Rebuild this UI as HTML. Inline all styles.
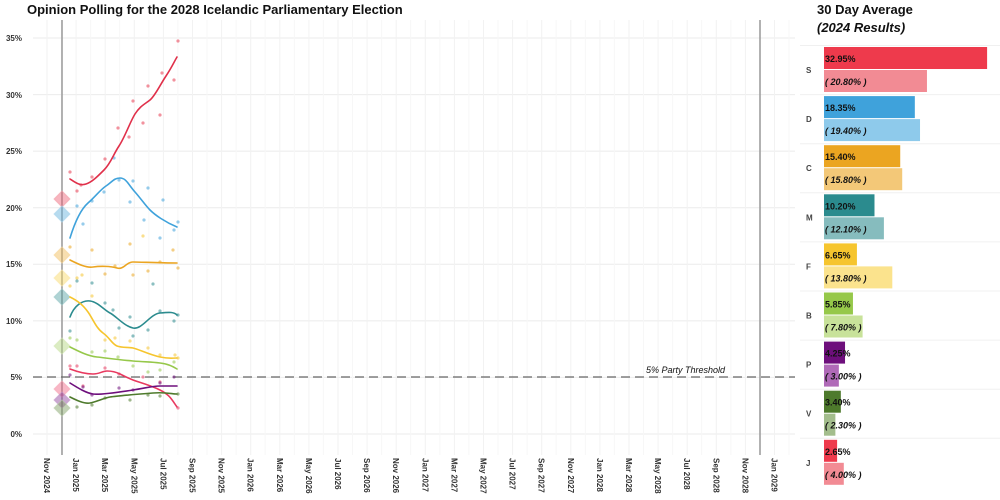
<!DOCTYPE html>
<html><head><meta charset="utf-8"><style>
body{margin:0;background:#fff;font-family:"Liberation Sans",sans-serif}
svg{display:block}
</style></head><body>
<svg width="1000" height="500" xmlns="http://www.w3.org/2000/svg" font-family="Liberation Sans, sans-serif">
<rect width="1000" height="500" fill="#fff"/>
<text x="27" y="14" font-size="13" font-weight="bold" fill="#111">Opinion Polling for the 2028 Icelandic Parliamentary Election</text>
<g stroke="#ebebeb" stroke-width="1">
<line x1="33" x2="795" y1="434" y2="434"/><line x1="33" x2="795" y1="377.4" y2="377.4"/>
<line x1="33" x2="795" y1="320.9" y2="320.9"/><line x1="33" x2="795" y1="264.3" y2="264.3"/>
<line x1="33" x2="795" y1="207.7" y2="207.7"/><line x1="33" x2="795" y1="151.1" y2="151.1"/>
<line x1="33" x2="795" y1="94.6" y2="94.6"/><line x1="33" x2="795" y1="38" y2="38"/>
</g>
<g stroke="#f2f2f2" stroke-width="1" id="vg"></g>
<g font-size="8" fill="#333" font-weight="bold" text-anchor="end">
<text x="22" y="437">0%</text><text x="22" y="380">5%</text><text x="22" y="324">10%</text><text x="22" y="267">15%</text><text x="22" y="211">20%</text><text x="22" y="154">25%</text><text x="22" y="98">30%</text><text x="22" y="41">35%</text>
</g>
<g id="xl" font-size="8" fill="#333" font-weight="bold"></g>
<line x1="62" x2="62" y1="20" y2="455" stroke="#999" stroke-width="1.5"/>
<line x1="760" x2="760" y1="20" y2="455" stroke="#999" stroke-width="1.5"/>
<line x1="33" x2="795" y1="377" y2="377" stroke="#666" stroke-width="1.2" stroke-dasharray="9,5"/>
<text x="646" y="373" font-size="9" font-style="italic" fill="#111">5% Party Threshold</text>
<g stroke-width="1" fill-opacity="0.45" stroke-opacity="0.6">
<path d="M62 191 l8 8 -8 8 -8 -8z" fill="#ee5c70" stroke="#f4a0aa"/>
<path d="M62 206 l8 8 -8 8 -8 -8z" fill="#5fb0dc" stroke="#a8d4ec"/>
<path d="M62 247 l8 8 -8 8 -8 -8z" fill="#f0b850" stroke="#f6d69a"/>
<path d="M62 270 l8 8 -8 8 -8 -8z" fill="#f9d860" stroke="#fbe8a8"/>
<path d="M62 289 l8 8 -8 8 -8 -8z" fill="#4e9ea0" stroke="#9cc9ca"/>
<path d="M62 338 l8 8 -8 8 -8 -8z" fill="#b0d47a" stroke="#d4e8b4"/>
<path d="M62 381 l8 8 -8 8 -8 -8z" fill="#f06080" stroke="#f6a8b8"/>
<path d="M62 392 l8 8 -8 8 -8 -8z" fill="#8a3c98" stroke="#c49acc"/>
<path d="M62 400 l8 8 -8 8 -8 -8z" fill="#78985a" stroke="#b8cca8"/>
</g>
<g fill-opacity="0.55">
<g fill="#e8394f"><circle cx="70" cy="172" r="1.6"/><circle cx="77" cy="191" r="1.6"/><circle cx="92" cy="177" r="1.6"/><circle cx="105" cy="159" r="1.6"/><circle cx="118" cy="128" r="1.6"/><circle cx="129" cy="137" r="1.6"/><circle cx="133" cy="101" r="1.6"/><circle cx="143" cy="123" r="1.6"/><circle cx="148" cy="86" r="1.6"/><circle cx="160" cy="115" r="1.6"/><circle cx="162" cy="73" r="1.6"/><circle cx="174" cy="80" r="1.6"/><circle cx="178" cy="41" r="1.6"/><circle cx="81" cy="185" r="1.6"/></g>
<g fill="#3fa2db"><circle cx="77" cy="206" r="1.6"/><circle cx="83" cy="224" r="1.6"/><circle cx="92" cy="201" r="1.6"/><circle cx="104" cy="192" r="1.6"/><circle cx="114" cy="158" r="1.6"/><circle cx="119" cy="180" r="1.6"/><circle cx="130" cy="202" r="1.6"/><circle cx="133" cy="181" r="1.6"/><circle cx="148" cy="188" r="1.6"/><circle cx="144" cy="220" r="1.6"/><circle cx="160" cy="238" r="1.6"/><circle cx="163" cy="200" r="1.6"/><circle cx="174" cy="230" r="1.6"/><circle cx="178" cy="222" r="1.6"/></g>
<g fill="#eba521"><circle cx="70" cy="247" r="1.6"/><circle cx="92" cy="250" r="1.6"/><circle cx="105" cy="274" r="1.6"/><circle cx="130" cy="244" r="1.6"/><circle cx="133" cy="275" r="1.6"/><circle cx="148" cy="271" r="1.6"/><circle cx="160" cy="262" r="1.6"/><circle cx="173" cy="250" r="1.6"/><circle cx="178" cy="268" r="1.6"/><circle cx="115" cy="266" r="1.6"/></g>
<g fill="#f6c52e"><circle cx="77" cy="278" r="1.6"/><circle cx="82" cy="275" r="1.6"/><circle cx="92" cy="296" r="1.6"/><circle cx="105" cy="340" r="1.6"/><circle cx="115" cy="338" r="1.6"/><circle cx="130" cy="341" r="1.6"/><circle cx="143" cy="236" r="1.6"/><circle cx="148" cy="348" r="1.6"/><circle cx="160" cy="355" r="1.6"/><circle cx="175" cy="355" r="1.6"/><circle cx="178" cy="358" r="1.6"/><circle cx="70" cy="286" r="1.6"/></g>
<g fill="#2b8b8e"><circle cx="70" cy="331" r="1.6"/><circle cx="77" cy="281" r="1.6"/><circle cx="92" cy="283" r="1.6"/><circle cx="105" cy="303" r="1.6"/><circle cx="113" cy="310" r="1.6"/><circle cx="119" cy="328" r="1.6"/><circle cx="130" cy="317" r="1.6"/><circle cx="133" cy="336" r="1.6"/><circle cx="148" cy="330" r="1.6"/><circle cx="160" cy="311" r="1.6"/><circle cx="174" cy="321" r="1.6"/><circle cx="178" cy="315" r="1.6"/><circle cx="153" cy="284" r="1.6"/></g>
<g fill="#96c84a"><circle cx="70" cy="338" r="1.6"/><circle cx="77" cy="340" r="1.6"/><circle cx="105" cy="351" r="1.6"/><circle cx="118" cy="357" r="1.6"/><circle cx="133" cy="366" r="1.6"/><circle cx="148" cy="372" r="1.6"/><circle cx="160" cy="370" r="1.6"/><circle cx="174" cy="362" r="1.6"/><circle cx="92" cy="352" r="1.6"/></g>
<g fill="#e8395f"><circle cx="70" cy="366" r="1.6"/><circle cx="77" cy="366" r="1.6"/><circle cx="105" cy="368" r="1.6"/><circle cx="119" cy="374" r="1.6"/><circle cx="143" cy="377" r="1.6"/><circle cx="160" cy="382" r="1.6"/><circle cx="178" cy="408" r="1.6"/><circle cx="83" cy="386" r="1.6"/></g>
<g fill="#6e0f7c"><circle cx="70" cy="375" r="1.6"/><circle cx="83" cy="387" r="1.6"/><circle cx="92" cy="395" r="1.6"/><circle cx="119" cy="388" r="1.6"/><circle cx="133" cy="390" r="1.6"/><circle cx="160" cy="383" r="1.6"/><circle cx="174" cy="377" r="1.6"/></g>
<g fill="#4e7a2c"><circle cx="77" cy="407" r="1.6"/><circle cx="92" cy="405" r="1.6"/><circle cx="105" cy="398" r="1.6"/><circle cx="130" cy="400" r="1.6"/><circle cx="148" cy="395" r="1.6"/><circle cx="160" cy="396" r="1.6"/><circle cx="178" cy="394" r="1.6"/></g>
</g>
<g fill="none" stroke-width="1.6" stroke-linecap="round">
<path d="M70 179 C76 183,80 186,86 184 S97 177,104 170 S113 155,119 146 S130 122,135 114 S145 104,150 100 S160 85,166 76 S174 62,177 57" stroke="#e0304a"/>
<path d="M70 238 C74 225,80 210,88 203 S100 190,106 186 S114 178,120 178 S128 184,135 192 S145 205,150 210 S165 222,177 227" stroke="#3fa2db"/>
<path d="M70 260 C78 264,86 268,93 267 S110 266,117 268 S126 262,133 262 S160 263,177 263" stroke="#eba521"/>
<path d="M70 317 C74 306,82 300,90 301 S104 310,110 313 S124 326,133 328 S150 314,160 313 S174 312,177 315" stroke="#2b8b8e"/>
<path d="M70 297 C78 301,83 305,88 312 S96 328,103 333 S112 344,117 346 S128 347,133 348 S150 355,160 357 S172 358,177 358" stroke="#f6c52e"/>
<path d="M70 347 C80 352,88 356,97 357 S120 360,133 361 S152 362,160 363 S172 366,177 369" stroke="#96c84a"/>
<path d="M70 369 C78 372,86 374,93 374 S102 371,107 371 S116 372,120 374 S128 378,133 380 S150 385,160 390 S172 400,177 407" stroke="#e8395f"/>
<path d="M70 383 C78 388,86 393,93 394 S120 392,133 390 S152 386,160 386 S172 386,177 386" stroke="#6e0f7c"/>
<path d="M70 397 C76 400,84 404,90 403 S104 398,110 397 S140 394,153 393 S172 394,177 394" stroke="#4e7a2c"/>
</g>
<text x="817" y="14" font-size="13" font-weight="bold" fill="#111">30 Day Average</text>
<text x="817" y="32" font-size="13" font-weight="bold" font-style="italic" fill="#111">(2024 Results)</text>
<g id="bars" font-size="9"></g>
</svg>
<script>
const ns="http://www.w3.org/2000/svg";
function el(p,t,a,tx){const e=document.createElementNS(ns,t);for(const k in a)e.setAttribute(k,a[k]);if(tx)e.textContent=tx;p.appendChild(e);return e;}
const vg=document.getElementById('vg'),xl=document.getElementById('xl');
const mon=["Nov","Jan","Mar","May","Jul","Sep"];
for(let i=0;i<26;i++){
 const x=47+i*29.1;
 el(vg,'line',{x1:x,x2:x,y1:20,y2:455});
 el(vg,'line',{x1:x+14.5,x2:x+14.5,y1:20,y2:455,stroke:'#f7f7f7'});
 const m=mon[i%6];const yr=m==="Nov"?2024+Math.floor(i/6):2025+Math.floor((i-1)/6);
 el(xl,'text',{transform:`translate(${x-3},458) rotate(90)`},m+" "+yr);
}
const b=document.getElementById('bars');
const d=[["S",32.95,20.8,"#ee3a4c","#f28b94"],["D",18.35,19.4,"#3fa2db","#8ecaeb"],["C",15.40,15.8,"#eba521","#f3c878"],["M",10.20,12.1,"#2b8b8e","#86bcbe"],["F",6.65,13.8,"#f6c52e","#fbe38d"],["B",5.85,7.8,"#96c84a","#c8e29a"],["P",4.25,3.0,"#6e0f7c","#b06ab8"],["V",3.40,2.3,"#4e7a2c","#a3bd8c"],["J",2.65,4.0,"#ee3a4c","#f28b94"]];
d.forEach((r,i)=>{
 const c=70+i*49.1;
 el(b,'line',{x1:800,x2:1000,y1:c-24.5,y2:c-24.5,stroke:'#f0f0f0'});
 el(b,'rect',{x:824,y:c-23,width:r[1]*4.95,height:22,fill:r[3]});
 el(b,'rect',{x:824,y:c,width:r[2]*4.95,height:22,fill:r[4]});
 el(b,'text',{x:806,y:c+3,'font-size':8,fill:'#444','font-weight':'bold'},r[0]);
 el(b,'text',{x:825,y:c-8,fill:'#111','font-weight':'bold'},r[1].toFixed(2)+"%");
 el(b,'text',{x:825,y:c+15,fill:'#111','font-style':'italic','font-weight':'bold'},"( "+r[2].toFixed(2)+"% )");
});
</script>
</body></html>
